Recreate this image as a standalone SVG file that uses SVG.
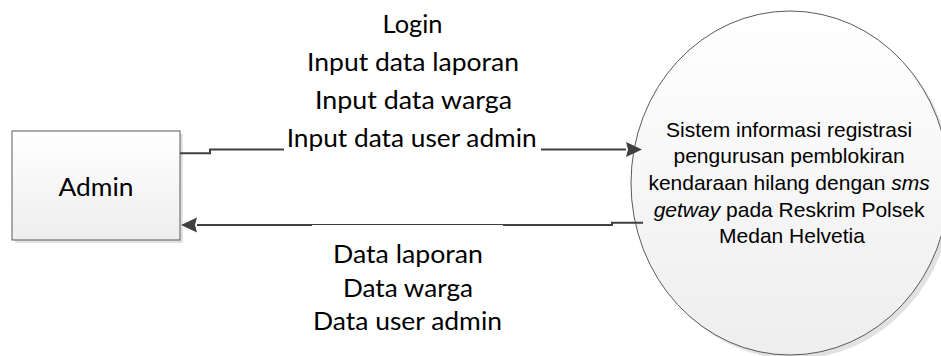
<svg xmlns="http://www.w3.org/2000/svg" width="941" height="356" viewBox="0 0 941 356">
  <style>
    .conn { fill: none; stroke: #404040; stroke-width: 2; }
    .lbl { font-family: Lato, "Open Sans", sans-serif; font-size: 25px; fill: #000; text-anchor: middle; }
    .proc { font-family: "Liberation Sans", Arial, sans-serif; font-size: 21px; fill: #000; text-anchor: middle; }
    .shape { stroke: #5a5a5a; stroke-width: 1; }
    .shadow { fill: #e2e2e2; stroke: none; }
  </style>
  <defs>
    <linearGradient id="gfill" x1="0" y1="0" x2="0" y2="1">
      <stop offset="0" stop-color="#ffffff"/>
      <stop offset="1" stop-color="#eeeeee"/>
    </linearGradient>
    <marker id="arrow" viewBox="0 0 16 16" refX="0" refY="8" markerWidth="16" markerHeight="16" markerUnits="userSpaceOnUse" orient="auto">
      <path d="M0,0.5 L16,8 L0,15.5 L2,8 z" fill="#404040"/>
    </marker>
  </defs>

  <g id="admin">
    <rect class="shadow" x="15" y="134" width="168" height="109"/>
    <rect class="shape" x="12" y="131" width="168" height="109" fill="url(#gfill)"/>
    <text class="lbl" x="96" y="196" font-size="28" textLength="75" lengthAdjust="spacingAndGlyphs">Admin</text>
  </g>

  <g id="sistem">
    <ellipse class="shadow" cx="794" cy="187" rx="159" ry="172"/>
    <ellipse class="shape" cx="790" cy="183" rx="159" ry="172" fill="url(#gfill)"/>
    <text class="proc">
      <tspan x="792" y="136.5">Sistem informasi registrasi</tspan>
      <tspan x="792" y="163.2">pengurusan pemblokiran</tspan>
      <tspan x="792" y="189.9">kendaraan hilang dengan <tspan font-style="italic">sms</tspan></tspan>
      <tspan x="792" y="216.6"><tspan font-style="italic">getway</tspan> pada Reskrim Polsek</tspan>
      <tspan x="792" y="243.3">Medan Helvetia</tspan>
    </text>
  </g>

  <g id="connectors">
    <path class="conn" d="M180,153.3 H210 V149.5 H626" marker-end="url(#arrow)"/>
    <path class="conn" d="M643,222.7 H612 V225 H197" marker-end="url(#arrow)"/>
  </g>

  <g id="label-input">
    <rect x="284" y="128" width="257" height="26" fill="#ffffff"/>
    <text class="lbl" x="412.5" y="33" textLength="60" lengthAdjust="spacingAndGlyphs">Login</text>
    <text class="lbl" x="413" y="71" textLength="212" lengthAdjust="spacingAndGlyphs">Input data laporan</text>
    <text class="lbl" x="413.5" y="109" textLength="197" lengthAdjust="spacingAndGlyphs">Input data warga</text>
    <text class="lbl" x="411.7" y="146.5" textLength="250" lengthAdjust="spacingAndGlyphs">Input data user admin</text>
  </g>

  <g id="label-output">
    <rect x="312" y="225" width="191" height="3" fill="#ffffff"/>
    <text class="lbl" x="408" y="263" textLength="150" lengthAdjust="spacingAndGlyphs">Data laporan</text>
    <text class="lbl" x="408" y="296.5" textLength="130" lengthAdjust="spacingAndGlyphs">Data warga</text>
    <text class="lbl" x="407.5" y="330" textLength="189" lengthAdjust="spacingAndGlyphs">Data user admin</text>
  </g>
</svg>
